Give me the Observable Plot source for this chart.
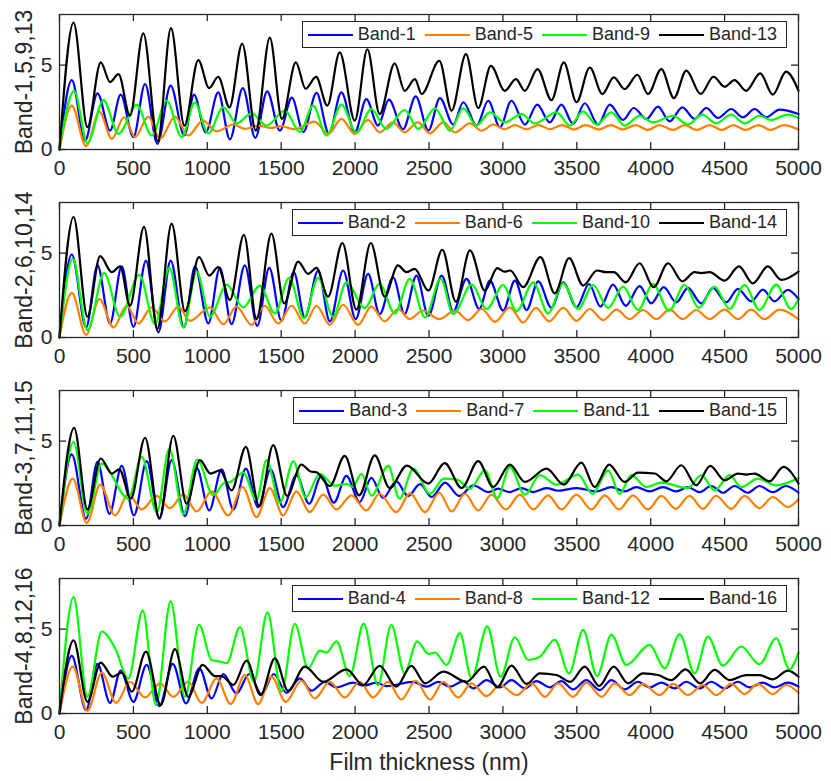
<!DOCTYPE html>
<html>
<head>
<meta charset="utf-8">
<script src="https://cdn.jsdelivr.net/npm/d3@7"></script>
<script src="https://cdn.jsdelivr.net/npm/@observablehq/plot@0.6"></script>
<style>
  body { margin: 0; background: #fff; }
  #chart { position: relative; width: 831px; }
  .panel { position: relative; width: 831px; }
  .panel svg { display: block; }
  .legend { position: absolute; right: 44px; height: 27px; box-sizing: border-box;
    border: 1.2px solid #262626; background: #fff; display: flex; align-items: center;
    padding: 0 9px 0 5px; font: 18px "Liberation Sans", Arial, Helvetica, sans-serif; color: #262626; }
  .legend .item { display: flex; align-items: center; margin-right: 9px; white-space: nowrap; }
  .legend .item:last-child { margin-right: 0; }
  .legend svg { margin-right: 5px; }
</style>
</head>
<body>
<div id="chart"></div>
<script>
// ---------- data (film thickness nm, value) ----------
const xTicks = [0, 500, 1000, 1500, 2000, 2500, 3000, 3500, 4000, 4500, 5000];
const yTicks = [0, 5];
const panelLabels = ["Band-1,5,9,13", "Band-2,6,10,14", "Band-3,7,11,15", "Band-4,8,12,16"];
const panelBands = [
  ["Band-1", "Band-5", "Band-9", "Band-13"],
  ["Band-2", "Band-6", "Band-10", "Band-14"],
  ["Band-3", "Band-7", "Band-11", "Band-15"],
  ["Band-4", "Band-8", "Band-12", "Band-16"]
];
const seriesColors = ["#0000ff", "#ff8000", "#00ff00", "#000000"];

const band1 = [[0,0],[83,4.11],[173,0.53],[257,3.33],[342,1.12],[414,3.25],[500,0.73],[579,3.88],[662,0.33],[752,3.78],[845,0.83],[910,3.25],[990,1.02],[1074,3.38],[1153,0.6],[1240,3.64],[1325,0.69],[1405,3.45],[1491,1.12],[1572,3.07],[1650,1.05],[1739,3.35],[1823,0.95],[1907,3.38],[1998,1.02],[2076,2.99],[2155,1.42],[2229,2.95],[2324,1.2],[2410,3.15],[2496,1.12],[2574,3.05],[2664,1.48],[2732,2.8],[2822,1.42],[2901,2.89],[2980,1.32],[3058,2.89],[3149,1.48],[3232,2.66],[3317,1.61],[3396,2.66],[3475,1.52],[3554,2.74],[3644,1.48],[3723,2.66],[3813,1.75],[3885,2.46],[3971,1.81],[4049,2.54],[4128,1.67],[4214,2.5],[4297,1.81],[4376,2.46],[4455,1.87],[4545,2.4],[4624,1.91],[4703,2.4],[4781,1.91],[4871,2.36],[5000,2.1]];
const band5 = [[0,0],[83,2.6],[180,0.2],[270,2.24],[354,0.63],[437,1.91],[511,0.73],[601,1.95],[680,0.63],[781,1.95],[871,0.83],[970,1.71],[1063,1.08],[1176,1.48],[1255,1.22],[1345,1.42],[1430,1.28],[1500,1.38],[1590,1.2],[1725,1.65],[1820,0.93],[1907,1.81],[1998,0.93],[2088,1.75],[2166,1.02],[2257,1.61],[2335,1.02],[2425,1.61],[2507,0.96],[2597,1.61],[2676,1.02],[2777,1.55],[2856,1.12],[2935,1.48],[3013,1.2],[3080,1.45],[3160,1.2],[3240,1.45],[3320,1.2],[3400,1.45],[3480,1.18],[3560,1.45],[3650,1.18],[3730,1.45],[3810,1.18],[3900,1.45],[3980,1.16],[4060,1.45],[4150,1.16],[4230,1.45],[4310,1.16],[4400,1.45],[4480,1.16],[4560,1.45],[4640,1.16],[4730,1.45],[4810,1.16],[4900,1.45],[5000,1.18]];
const band9 = [[0,0],[99,3.48],[189,0.37],[297,2.93],[399,0.93],[522,2.64],[624,0.83],[725,2.89],[827,0.73],[915,2.78],[1007,0.96],[1108,2.5],[1199,1.55],[1300,2.14],[1401,1.42],[1525,2.3],[1626,1.04],[1716,2.6],[1807,0.83],[1908,2.66],[2009,1.0],[2110,2.4],[2211,1.22],[2335,2.34],[2428,1.22],[2541,2.44],[2642,1.12],[2732,2.44],[2822,1.42],[2912,2.2],[3013,1.61],[3126,2.1],[3216,1.55],[3363,2.2],[3453,1.42],[3543,2.26],[3633,1.48],[3734,2.2],[3824,1.42],[3926,2.0],[4016,1.61],[4151,2.0],[4252,1.48],[4349,2.07],[4443,1.55],[4545,2.07],[4635,1.55],[4736,2.0],[4815,1.75],[4928,2.07],[5000,1.87]];
const band13 = [[0,0],[95,7.52],[189,1.32],[279,5.16],[342,4.0],[399,4.47],[477,2.0],[567,6.89],[665,0.5],[754,7.19],[845,1.42],[939,5.3],[1012,3.64],[1074,4.31],[1150,2.5],[1236,6.28],[1328,1.12],[1423,6.63],[1505,1.81],[1599,5.16],[1665,3.6],[1736,4.3],[1812,2.6],[1896,5.75],[1998,1.71],[2083,5.94],[2166,2.1],[2268,5.1],[2335,3.48],[2405,4.17],[2450,3.29],[2570,5.26],[2653,2.3],[2750,5.65],[2833,2.46],[2919,4.96],[3013,3.48],[3088,4.17],[3149,3.48],[3234,4.76],[3329,2.93],[3412,5.16],[3498,2.8],[3588,4.86],[3673,3.29],[3750,4.27],[3824,3.58],[3910,4.43],[3982,3.29],[4072,4.76],[4157,3.05],[4241,4.67],[4338,3.29],[4425,4.31],[4500,3.72],[4567,4.11],[4646,3.48],[4741,4.51],[4826,3.25],[4916,4.61],[5000,3.48]];

const band2 = [[0,0],[83,4.92],[180,0.6],[257,4.27],[342,0.83],[421,4.21],[500,0.63],[585,4.56],[669,0.3],[752,4.56],[842,0.6],[917,4.21],[1007,0.83],[1085,4.13],[1164,0.79],[1254,4.27],[1338,0.69],[1419,4.13],[1502,0.99],[1585,3.87],[1660,1.19],[1750,3.97],[1829,0.95],[1919,3.97],[2004,1.09],[2088,3.77],[2166,1.39],[2257,3.57],[2335,1.39],[2415,3.67],[2496,1.29],[2586,3.67],[2664,1.55],[2754,3.47],[2840,1.69],[2912,3.37],[3002,1.59],[3081,3.37],[3160,1.63],[3239,3.33],[3329,1.75],[3408,3.27],[3498,1.79],[3583,3.17],[3660,1.83],[3745,3.13],[3831,1.88],[3925,3.04],[4004,2.02],[4088,2.98],[4173,2.08],[4252,2.94],[4342,2.02],[4421,2.94],[4511,2.08],[4590,2.88],[4680,2.14],[4759,2.84],[4838,2.14],[4928,2.82],[5000,2.28]];
const band6 = [[0,0],[83,2.64],[180,0.16],[270,2.28],[365,0.6],[455,1.88],[534,0.83],[624,1.79],[714,0.95],[804,1.83],[883,0.99],[1018,1.79],[1108,0.79],[1198,1.83],[1299,0.75],[1389,1.88],[1480,0.83],[1570,1.88],[1660,0.83],[1739,1.88],[1829,0.75],[1919,1.94],[2020,0.75],[2110,1.83],[2200,0.95],[2290,1.69],[2369,1.09],[2460,1.6],[2570,1.09],[2676,1.59],[2766,1.03],[2856,1.69],[2946,0.93],[3047,1.79],[3137,0.89],[3223,1.75],[3313,0.95],[3408,1.75],[3498,0.99],[3588,1.69],[3678,1.03],[3768,1.65],[3858,1.09],[3948,1.63],[4038,1.09],[4128,1.65],[4218,1.09],[4308,1.63],[4398,1.09],[4500,1.65],[4590,1.09],[4680,1.65],[4770,1.09],[4871,1.65],[5000,1.09]];
const band10 = [[0,0],[90,4.66],[189,0.44],[302,3.81],[410,1.23],[540,3.71],[646,0.79],[743,4.13],[838,0.6],[928,3.91],[1018,1.23],[1131,3.13],[1243,1.79],[1356,3.08],[1457,1.43],[1554,3.53],[1653,1.15],[1750,3.53],[1851,1.23],[1941,3.27],[2065,1.75],[2166,3.17],[2268,1.43],[2370,3.47],[2473,1.19],[2579,3.47],[2664,1.39],[2788,3.13],[2890,1.69],[3002,3.11],[3092,1.55],[3205,3.27],[3306,1.43],[3408,3.21],[3509,1.69],[3610,3.11],[3712,1.75],[3813,3.02],[3914,1.63],[4016,3.17],[4124,1.59],[4229,3.11],[4326,1.75],[4432,3.02],[4534,1.69],[4635,3.11],[4736,1.63],[4849,3.13],[4950,1.69],[5000,2.28]];
const band14 = [[0,0],[95,7.14],[189,1.23],[275,4.82],[354,3.87],[410,4.21],[477,1.88],[572,6.55],[662,0.5],[759,6.75],[849,1.55],[944,4.76],[1013,3.67],[1074,4.17],[1153,2.22],[1248,6.09],[1333,1.09],[1434,6.15],[1520,2.02],[1615,4.5],[1682,3.77],[1739,4.13],[1817,2.42],[1914,5.6],[2009,1.65],[2106,5.6],[2200,2.42],[2290,4.27],[2347,3.87],[2403,4.07],[2496,2.78],[2590,5.2],[2682,2.12],[2777,5.16],[2878,2.78],[2962,4.11],[3010,3.9],[3050,3.97],[3137,2.98],[3254,4.76],[3351,2.62],[3448,4.7],[3543,3.08],[3637,3.97],[3700,3.87],[3750,3.87],[3831,3.27],[3925,4.4],[4020,2.98],[4117,4.4],[4214,3.33],[4297,3.87],[4342,3.82],[4398,3.87],[4500,3.37],[4597,4.21],[4691,3.21],[4793,4.21],[4883,3.41],[5000,3.91]];

const band3 = [[0,0],[83,4.21],[180,0.4],[257,3.77],[338,0.69],[421,3.53],[504,0.6],[590,3.81],[676,0.4],[759,3.87],[849,0.56],[928,3.41],[1013,0.89],[1097,3.33],[1176,0.95],[1261,3.37],[1344,1.09],[1428,3.33],[1513,1.09],[1603,2.98],[1689,1.29],[1772,2.94],[1856,1.35],[1941,2.94],[2031,1.39],[2110,2.82],[2189,1.63],[2279,2.62],[2358,1.75],[2440,2.45],[2518,1.69],[2608,2.54],[2705,1.75],[2800,2.38],[2901,1.98],[2968,2.18],[3047,1.98],[3126,2.22],[3205,1.98],[3295,2.22],[3374,2.06],[3500,2.22],[3633,2.02],[3734,2.28],[3824,2.02],[3903,2.28],[3993,2.02],[4083,2.28],[4173,2.02],[4252,2.28],[4330,1.98],[4410,2.34],[4490,1.94],[4567,2.34],[4657,1.94],[4736,2.34],[4826,1.98],[4916,2.34],[5000,1.94]];
const band7 = [[0,0],[90,2.78],[185,0.16],[275,2.42],[376,0.6],[466,1.88],[556,0.95],[658,1.75],[748,1.03],[838,1.83],[928,0.83],[1029,2.02],[1142,0.6],[1239,2.28],[1333,0.5],[1423,2.22],[1513,0.6],[1603,2.02],[1693,0.79],[1784,1.83],[1874,0.95],[1975,1.79],[2076,0.89],[2166,1.88],[2279,0.79],[2372,1.9],[2473,0.79],[2570,1.94],[2653,0.83],[2743,1.88],[2833,0.89],[2923,1.83],[3020,0.95],[3115,1.83],[3205,0.95],[3306,1.79],[3396,0.95],[3498,1.83],[3599,0.95],[3689,1.79],[3786,0.95],[3880,1.79],[3982,0.95],[4072,1.75],[4169,0.99],[4263,1.75],[4353,0.99],[4443,1.75],[4545,0.99],[4635,1.75],[4736,1.03],[4826,1.69],[4928,1.09],[5000,1.55]];
const band11 = [[0,0],[95,4.96],[189,0.69],[286,3.67],[466,1.59],[556,4.07],[658,0.79],[743,4.56],[838,0.69],[932,3.91],[1040,1.79],[1110,2.5],[1160,2.6],[1243,3.13],[1333,1.49],[1401,3.87],[1491,1.35],[1582,3.8],[1665,1.67],[1761,3.06],[1863,2.36],[1942,2.46],[1985,2.3],[2043,3.06],[2111,1.77],[2224,3.55],[2300,1.6],[2395,3.35],[2507,1.88],[2600,2.78],[2690,2.72],[2777,2.18],[2878,3.27],[2962,1.63],[3047,3.47],[3149,1.83],[3250,2.98],[3362,2.42],[3509,3.02],[3606,1.88],[3712,3.27],[3790,1.88],[3869,2.98],[3971,2.28],[4072,2.54],[4252,2.22],[4342,2.98],[4432,2.08],[4534,2.98],[4612,2.28],[4725,2.78],[4849,2.38],[5000,2.82]];
const band15 = [[0,0],[99,5.79],[189,0.95],[279,3.97],[354,3.08],[405,3.33],[482,1.59],[579,5.2],[676,0.44],[770,5.32],[860,1.29],[950,3.87],[1022,3.08],[1085,3.27],[1164,2.08],[1261,4.66],[1351,1.15],[1446,4.76],[1540,1.75],[1637,3.61],[1698,3.2],[1740,3.15],[1829,2.34],[1930,4.13],[2027,1.79],[2133,4.15],[2234,2.22],[2350,3.55],[2496,2.48],[2606,3.7],[2721,2.22],[2833,3.81],[2935,2.28],[3047,3.61],[3149,2.58],[3295,3.37],[3412,2.42],[3531,3.73],[3621,2.28],[3718,3.61],[3824,2.58],[3914,3.13],[4027,3.08],[4106,2.62],[4207,3.57],[4308,2.38],[4403,3.53],[4500,2.68],[4590,3.08],[4646,3.02],[4703,3.08],[4804,2.62],[4898,3.47],[5000,2.48]];

const band4 = [[0,0],[83,3.41],[180,0.2],[257,2.94],[342,0.63],[414,2.54],[500,0.69],[590,2.88],[676,0.44],[766,2.94],[856,0.6],[946,2.68],[1029,0.89],[1108,2.34],[1198,1.19],[1284,2.34],[1367,1.15],[1450,2.34],[1536,1.23],[1626,2.08],[1705,1.35],[1795,1.88],[1874,1.55],[1986,1.83],[2060,1.65],[2144,1.83],[2211,1.62],[2390,1.88],[2484,1.59],[2563,1.88],[2642,1.59],[2732,1.92],[2800,1.49],[2890,1.98],[2980,1.55],[3058,1.98],[3149,1.49],[3227,1.92],[3317,1.55],[3396,1.92],[3475,1.43],[3565,1.98],[3655,1.39],[3734,1.98],[3824,1.43],[3914,1.88],[3993,1.55],[4072,1.83],[4162,1.49],[4241,1.88],[4331,1.49],[4410,1.88],[4500,1.49],[4590,1.88],[4669,1.55],[4759,1.83],[4838,1.55],[4928,1.83],[5000,1.59]];
const band8 = [[0,0],[90,2.78],[189,0.16],[286,2.42],[383,0.63],[477,1.88],[579,0.95],[680,1.79],[770,0.99],[871,1.88],[962,0.63],[1063,2.08],[1158,0.56],[1254,2.28],[1344,0.56],[1434,2.18],[1531,0.69],[1637,1.94],[1727,0.89],[1829,1.88],[1930,0.95],[2031,1.88],[2121,0.95],[2223,1.88],[2313,0.83],[2410,1.94],[2507,0.83],[2597,1.88],[2698,0.95],[2788,1.79],[2890,1.03],[2980,1.69],[3092,1.09],[3194,1.79],[3284,0.99],[3374,1.79],[3475,0.99],[3565,1.83],[3667,0.99],[3757,1.79],[3858,1.09],[3948,1.75],[4061,1.09],[4151,1.75],[4252,1.09],[4353,1.69],[4443,1.09],[4545,1.75],[4635,1.15],[4725,1.75],[4826,1.15],[4916,1.69],[5000,1.23]];
const band12 = [[0,0],[95,6.9],[189,0.99],[286,4.86],[376,3.87],[466,2.08],[563,6.11],[653,0.5],[752,6.65],[849,0.99],[944,5.26],[1029,3.17],[1085,3.08],[1131,2.98],[1221,5.12],[1315,1.88],[1407,5.99],[1502,1.29],[1592,5.32],[1682,2.68],[1761,3.73],[1806,3.61],[1874,4.27],[1964,2.22],[2058,5.32],[2155,1.69],[2245,5.26],[2335,2.38],[2420,4.27],[2496,3.53],[2541,3.61],[2619,2.88],[2709,4.76],[2788,2.08],[2894,5.16],[2984,2.18],[3081,4.52],[3171,3.17],[3250,3.37],[3351,4.37],[3448,2.38],[3543,4.96],[3637,2.22],[3734,4.66],[3835,2.88],[3993,4.07],[4094,2.68],[4196,4.7],[4297,2.38],[4387,4.56],[4488,2.84],[4612,3.97],[4736,2.92],[4849,4.46],[4939,2.62],[5000,3.61]];
const band16 = [[0,0],[95,4.33],[189,0.69],[279,3.02],[360,2.18],[421,2.42],[489,1.29],[585,3.67],[685,0.5],[781,3.81],[871,0.99],[968,2.88],[1052,2.22],[1097,2.22],[1176,1.69],[1266,3.13],[1360,1.09],[1457,3.27],[1547,1.35],[1660,2.78],[1784,1.88],[1941,2.62],[2054,1.69],[2166,2.82],[2279,1.59],[2380,2.82],[2473,1.79],[2597,2.48],[2754,1.88],[2872,2.78],[2962,1.55],[3058,2.84],[3160,1.75],[3250,2.38],[3362,2.28],[3457,1.88],[3554,2.78],[3651,1.63],[3750,2.78],[3847,1.79],[3948,2.38],[4049,2.28],[4139,1.98],[4236,2.62],[4335,1.79],[4432,2.58],[4534,1.98],[4646,2.28],[4736,2.28],[4826,2.02],[4928,2.54],[5000,2.18]];

const bandSeries = {
  "Band-1": band1, "Band-2": band2, "Band-3": band3, "Band-4": band4,
  "Band-5": band5, "Band-6": band6, "Band-7": band7, "Band-8": band8,
  "Band-9": band9, "Band-10": band10, "Band-11": band11, "Band-12": band12,
  "Band-13": band13, "Band-14": band14, "Band-15": band15, "Band-16": band16
};

// ---------- drawing ----------
const FONT = '"Liberation Sans", Arial, Helvetica, sans-serif';
const INK = "#262626";
const W = 831, ML = 59, MR = 33, MT = 14, FRAME_H = 135;
const FRAME_W = W - ML - MR;
const TICK = 7;
const chart = document.getElementById("chart");

panelBands.forEach((names, i) => {
  const last = i === panelBands.length - 1;
  const MB = last ? 68 : 39;
  const H = MT + FRAME_H + MB;
  const rows = names.flatMap(n => bandSeries[n].map(([x, y]) => ({band: n, x, y})));

  const marks = [
    Plot.line(rows, {x: "x", y: "y", z: "band", stroke: "band", strokeWidth: 2.2, curve: "monotone-x"}),
    Plot.frame({stroke: INK, strokeWidth: 1.3}),
    Plot.tickX(xTicks, {x: d => d, insetTop: FRAME_H - TICK, stroke: INK, strokeWidth: 1.3}),
    Plot.tickX(xTicks, {x: d => d, insetBottom: FRAME_H - TICK, stroke: INK, strokeWidth: 1.3}),
    Plot.tickY(yTicks, {y: d => d, insetRight: FRAME_W - TICK, stroke: INK, strokeWidth: 1.3}),
    Plot.tickY(yTicks, {y: d => d, insetLeft: FRAME_W - TICK, stroke: INK, strokeWidth: 1.3}),
    Plot.axisX({ticks: xTicks, tickSize: 0, tickPadding: 11, fontSize: 21, label: null, tickFormat: d => String(d), fill: INK}),
    Plot.axisY({ticks: yTicks, tickSize: 0, tickPadding: 7, fontSize: 21, label: null, fill: INK}),
    Plot.text([panelLabels[i]], {frameAnchor: "left", text: d => d, rotate: -90, dx: -28, lineAnchor: "bottom", textAnchor: "middle", fontSize: 23, fill: INK})
  ];
  if (last) {
    marks.push(Plot.text(["Film thickness (nm)"], {frameAnchor: "bottom", text: d => d, dy: 56, lineAnchor: "bottom", textAnchor: "middle", fontSize: 23, fill: INK}));
  }

  const svg = Plot.plot({
    width: W, height: H,
    marginTop: MT, marginBottom: MB, marginLeft: ML, marginRight: MR,
    x: {domain: [0, 5000]},
    y: {domain: [0, 8]},
    color: {domain: names, range: seriesColors},
    style: {fontFamily: FONT, color: INK, background: "#fff", overflow: "visible"},
    marks
  });

  const panel = document.createElement("div");
  panel.className = "panel";
  panel.appendChild(svg);

  const legend = document.createElement("div");
  legend.className = "legend";
  legend.style.top = (MT + 7) + "px";
  names.forEach((n, j) => {
    const item = document.createElement("div");
    item.className = "item";
    item.innerHTML = `<svg width="45" height="6"><line x1="0" y1="3" x2="45" y2="3" stroke="${seriesColors[j]}" stroke-width="2.2"/></svg><span>${n}</span>`;
    legend.appendChild(item);
  });
  panel.appendChild(legend);
  chart.appendChild(panel);
});
</script>
</body>
</html>
